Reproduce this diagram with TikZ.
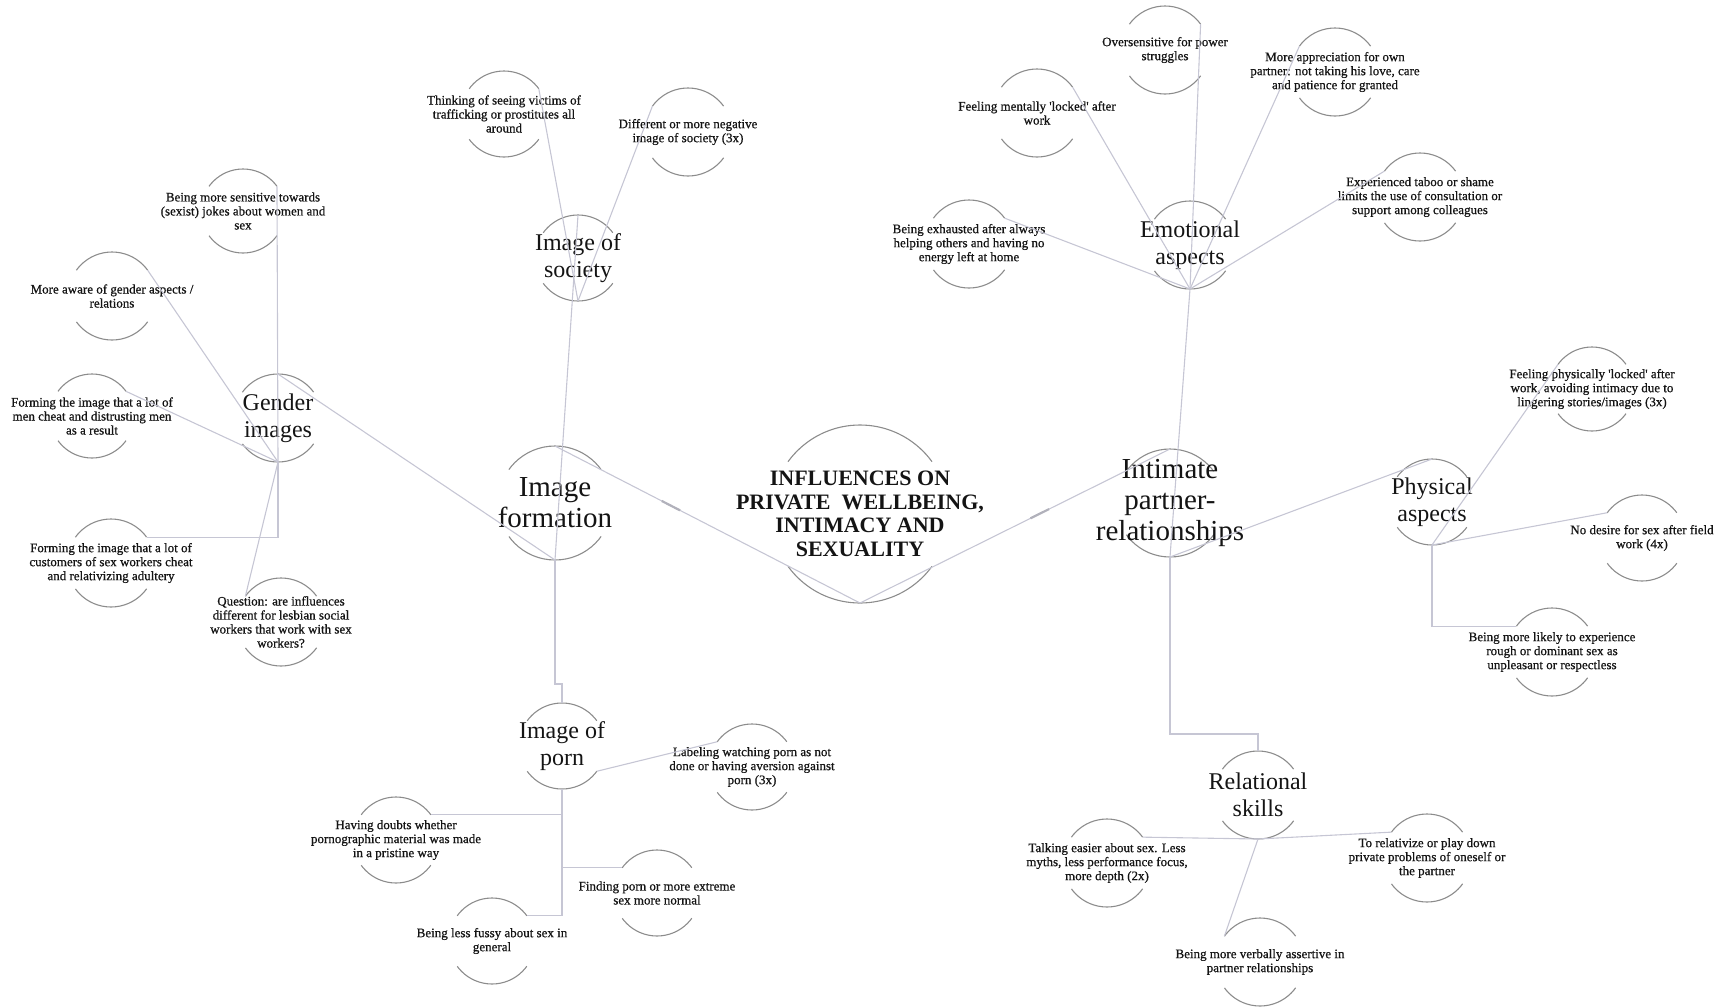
\documentclass[tikz,border=0pt]{standalone}
\usepackage{fontspec}
\setmainfont{Liberation Serif}
\newfontfamily\heavyserif[FakeBold=0.7]{Liberation Serif}
\usetikzlibrary{calc}
\definecolor{arcgray}{RGB}{140,140,140}
\definecolor{linkgray}{RGB}{198,198,212}
\definecolor{ink}{RGB}{20,20,20}
\begin{document}
\begin{tikzpicture}[x=1pt,y=-1pt,
  % a circle of radius #1 whose left and right sides are left open
  bub/.style={circle, draw=arcgray, line width=1.1pt, minimum size={2*#1pt},
    inner sep=0pt, outer sep=0pt,
    dash pattern=on 1.885*#1pt off 1.2566*#1pt, dash phase=2.5133*#1pt},
  smalltxt/.style={align=center, inner sep=0pt, text=ink, font=\heavyserif\fontsize{13}{14}\selectfont},
  midtxt/.style={align=center, inner sep=0pt, text=ink, font=\fontsize{24}{27}\selectfont},
  bigtxt/.style={align=center, inner sep=0pt, text=ink, font=\fontsize{29}{31}\selectfont},
  titletxt/.style={align=center, inner sep=0pt, text=ink, font=\bfseries\fontsize{22}{23.5}\selectfont},
  link/.style={draw=linkgray, line width=1.1pt},
  linkmark/.style={draw=linkgray!70!gray, line width=2.2pt}
]
\useasboundingbox (0,0) rectangle (1733,1007);

% ---- centre and main branches ----
\node[bub=89, label={[titletxt,name=ctr-t]center:{INFLUENCES ON\\PRIVATE\ \ WELLBEING,\\INTIMACY AND\\SEXUALITY}}] (ctr) at (860,514) {};
\node[bub=57, label={[bigtxt,name=imgform-t]center:{Image\\formation}}] (imgform) at (555,503) {};
\node[bub=54, label={[bigtxt,name=intimate-t]center:{Intimate\\partner-\\relationships}}] (intimate) at (1170,503) {};

\node[bub=44, label={[midtxt,name=gender-t]center:{Gender\\images}}] (gender) at (278,418) {};
\node[bub=43, label={[midtxt,name=society-t]center:{Image of\\society}}] (society) at (578,258) {};
\node[bub=43, label={[midtxt,name=porn-t]center:{Image of\\porn}}] (porn) at (562,746) {};
\node[bub=44, label={[midtxt,name=emotional-t]center:{Emotional\\aspects}}] (emotional) at (1190,245) {};
\node[bub=43, label={[midtxt,name=physical-t]center:{Physical\\aspects}}] (physical) at (1432,502) {};
\node[bub=44, label={[midtxt,name=relational-t]center:{Relational\\skills}}] (relational) at (1258,795) {};

% ---- gender images ----
\node[bub=42, label={[smalltxt,name=sens-t]center:{Being more sensitive towards\\(sexist) jokes about women and\\sex}}] (sens) at (243,211) {};
\node[bub=44, label={[smalltxt,name=aware-t]center:{More aware of gender aspects /\\relations}}] (aware) at (112,296) {};
\node[bub=42, label={[smalltxt,name=mencheat-t]center:{Forming the image that a lot of\\men cheat and distrusting men\\as a result}}] (mencheat) at (92,416) {};
\node[bub=44, label={[smalltxt,name=custcheat-t]center:{Forming the image that a lot of\\customers of sex workers cheat\\and relativizing adultery}}] (custcheat) at (111,563) {};
\node[bub=44, label={[smalltxt,name=question-t]center:{Question: are influences\\different for lesbian social\\workers that work with sex\\workers?}}] (question) at (281,622) {};

% ---- image of society ----
\node[bub=43, label={[smalltxt,name=thinking-t]center:{Thinking of seeing victims of\\trafficking or prostitutes all\\around}}] (thinking) at (504,114) {};
\node[bub=44, label={[smalltxt,name=different-t]center:{Different or more negative\\image of society (3x)}}] (different) at (688,132) {};

% ---- image of porn ----
\node[bub=43, label={[smalltxt,name=labeling-t]center:{Labeling watching porn as not\\done or having aversion against\\porn (3x)}}] (labeling) at (752,767) {};
\node[bub=43, label={[smalltxt,name=doubts-t]center:{Having doubts whether\\pornographic material was made\\in a pristine way}}] (doubts) at (396,840) {};
\node[bub=43, label={[smalltxt,name=finding-t]center:{Finding porn or more extreme\\sex more normal}}] (finding) at (657,893) {};
\node[bub=43, label={[smalltxt,name=fussy-t]center:{Being less fussy about sex in\\general}}] (fussy) at (492,941) {};

% ---- emotional aspects ----
\node[bub=44, label={[smalltxt,name=oversens-t]center:{Oversensitive for power\\struggles}}] (oversens) at (1165,50) {};
\node[bub=44, label={[smalltxt,name=apprec-t]center:{More appreciation for own\\partner: not taking his love, care\\and patience for granted}}] (apprec) at (1335,72) {};
\node[bub=44, label={[smalltxt,name=mentally-t]center:{Feeling mentally 'locked' after\\work}}] (mentally) at (1037,113) {};
\node[bub=44, label={[smalltxt,name=taboo-t]center:{Experienced taboo or shame\\limits the use of consultation or\\support among colleagues}}] (taboo) at (1420,197) {};
\node[bub=44, label={[smalltxt,name=exhausted-t]center:{Being exhausted after always\\helping others and having no\\energy left at home}}] (exhausted) at (969,244) {};

% ---- physical aspects ----
\node[bub=42, label={[smalltxt,name=physlocked-t]center:{Feeling physically 'locked' after\\work, avoiding intimacy due to\\lingering stories/images (3x)}}] (physlocked) at (1592,389) {};
\node[bub=43, label={[smalltxt,name=nodesire-t]center:{No desire for sex after field\\work (4x)}}] (nodesire) at (1642,538) {};
\node[bub=44, label={[smalltxt,name=rough-t]center:{Being more likely to experience\\rough or dominant sex as\\unpleasant or respectless}}] (rough) at (1552,652) {};

% ---- relational skills ----
\node[bub=44, label={[smalltxt,name=talking-t]center:{Talking easier about sex. Less\\myths, less performance focus,\\more depth (2x)}}] (talking) at (1107,863) {};
\node[bub=44, label={[smalltxt,name=relativize-t]center:{To relativize or play down\\private problems of oneself or\\the partner}}] (relativize) at (1427,858) {};
\node[bub=44, label={[smalltxt,name=verbally-t]center:{Being more verbally assertive in\\partner relationships}}] (verbally) at (1260,962) {};

% ---- connectors ----
\draw[link] (imgform.north) -- (ctr.south);
\draw[link] (ctr.south) -- (intimate.north);
\path (imgform.north) -- (ctr.south) coordinate[pos=0.35] (mkA1) coordinate[pos=0.41] (mkA2);
\path (ctr.south) -- (intimate.north) coordinate[pos=0.55] (mkB1) coordinate[pos=0.61] (mkB2);
\draw[linkmark] (mkA1) -- (mkA2);
\draw[linkmark] (mkB1) -- (mkB2);

\draw[link] (gender.north) -- (imgform.south);
\draw[link] (society.north) -- (imgform.south);
\draw[link] (imgform.south) |- ([yshift=19pt]porn.north) -- (porn.north);

\draw[link] (gender.south) -- (sens.36);
\draw[link] (gender.south) -- (aware.36);
\draw[link] (gender.south) -- (mencheat.36);
\draw[link] (gender.south) |- (custcheat.36);
\draw[link] (gender.south) -- (question.144);

\draw[link] (society.south) -- (thinking.36);
\draw[link] (society.south) -- (different.144);

\draw[link] (porn.-36) -- (labeling.144);
\draw[link] (porn.south) |- (doubts.36);
\draw[link] (porn.south) |- (finding.144);
\draw[link] (porn.south) |- (fussy.36);

\draw[link] (emotional.south) -- (oversens.36);
\draw[link] (emotional.south) -- (apprec.144);
\draw[link] (emotional.south) -- (mentally.36);
\draw[link] (emotional.south) -- (taboo.144);
\draw[link] (emotional.south) -- (exhausted.36);
\draw[link] (emotional.south) -- (intimate.south);

\draw[link] (intimate.south) -- (physical.north);
\draw[link] (intimate.south) |- ([yshift=17pt]relational.north) -- (relational.north);

\draw[link] (physical.south) -- (physlocked.144);
\draw[link] (physical.south) -- (nodesire.144);
\draw[link] (physical.south) |- (rough.144);

\draw[link] (relational.south) -- (talking.36);
\draw[link] (relational.south) -- (relativize.144);
\draw[link] (relational.south) -- (verbally.144);
\end{tikzpicture}
\end{document}
